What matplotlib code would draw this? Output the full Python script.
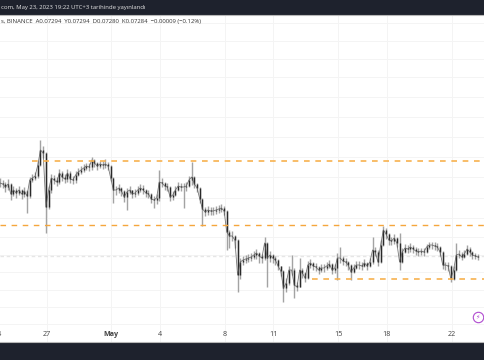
"""
ETH/BTC style 4h chart, screenshot layout with dark header and footer strip.
"""
import pandas as pd
import matplotlib.pyplot as plt

plt.rcParams['font.family'] = ['Open Sans', 'DejaVu Sans']

# ---------------------------
# Data (price x 1e5)
# ---------------------------
closes = [7430, 7428, 7422, 7428, 7408, 7416, 7410, 7416, 7408, 7414, 7404, 7436, 7440, 7444, 7466, 7496, 7490, 7382,
          7416, 7440, 7436, 7432, 7450, 7442, 7438, 7450, 7438, 7436, 7446, 7452, 7456, 7460, 7464, 7462, 7476, 7470,
          7464, 7468, 7466, 7468, 7464, 7440, 7416, 7416, 7420, 7414, 7402, 7412, 7416, 7408, 7410, 7416, 7420, 7416,
          7410, 7408, 7398, 7396, 7400, 7432, 7430, 7424, 7422, 7402, 7406, 7416, 7424, 7422, 7422, 7424, 7436, 7442,
          7428, 7420, 7398, 7378, 7372, 7376, 7374, 7374, 7376, 7378, 7380, 7374, 7332, 7324, 7324, 7316, 7246, 7272,
          7276, 7278, 7280, 7282, 7286, 7290, 7284, 7280, 7310, 7280, 7286, 7280, 7276, 7264, 7254, 7220, 7230, 7256,
          7256, 7226, 7222, 7256, 7250, 7240, 7266, 7270, 7264, 7262, 7256, 7260, 7260, 7264, 7268, 7256, 7260, 7280,
          7280, 7274, 7272, 7266, 7252, 7260, 7266, 7266, 7264, 7270, 7264, 7272, 7296, 7292, 7272, 7306, 7336, 7328,
          7316, 7314, 7320, 7310, 7272, 7292, 7300, 7298, 7302, 7298, 7294, 7292, 7294, 7292, 7302, 7306, 7306, 7304,
          7302, 7292, 7266, 7266, 7264, 7238, 7256, 7286, 7288, 7282, 7288, 7298, 7292, 7286, 7284, 7282]
highs = [7440, 7436, 7432, 7438, 7430, 7424, 7420, 7424, 7418, 7422, 7416, 7442, 7448, 7452, 7474, 7516, 7504, 7492,
         7424, 7448, 7446, 7442, 7458, 7454, 7448, 7458, 7454, 7444, 7454, 7460, 7464, 7468, 7470, 7470, 7482, 7478,
         7472, 7474, 7474, 7478, 7472, 7466, 7442, 7424, 7428, 7422, 7416, 7420, 7424, 7416, 7418, 7424, 7428, 7426,
         7418, 7416, 7410, 7404, 7408, 7456, 7440, 7432, 7430, 7424, 7414, 7424, 7432, 7430, 7430, 7432, 7444, 7472,
         7444, 7430, 7422, 7400, 7382, 7384, 7382, 7382, 7384, 7386, 7388, 7384, 7376, 7336, 7334, 7326, 7318, 7280,
         7284, 7286, 7288, 7290, 7294, 7298, 7292, 7288, 7322, 7312, 7294, 7288, 7284, 7278, 7264, 7256, 7240, 7264,
         7286, 7260, 7232, 7280, 7260, 7252, 7274, 7278, 7272, 7270, 7264, 7268, 7268, 7272, 7276, 7270, 7268, 7290,
         7302, 7284, 7280, 7274, 7268, 7268, 7274, 7274, 7272, 7278, 7272, 7280, 7322, 7302, 7296, 7316, 7344, 7340,
         7330, 7322, 7328, 7322, 7330, 7300, 7308, 7306, 7310, 7306, 7302, 7300, 7300, 7300, 7308, 7312, 7312, 7312,
         7310, 7304, 7294, 7272, 7272, 7266, 7264, 7310, 7296, 7292, 7296, 7306, 7302, 7294, 7290, 7288]
lows = [7422, 7420, 7412, 7416, 7396, 7404, 7400, 7406, 7398, 7402, 7370, 7400, 7432, 7436, 7440, 7464, 7480, 7330,
        7378, 7410, 7428, 7424, 7428, 7434, 7430, 7432, 7430, 7428, 7430, 7444, 7448, 7452, 7456, 7454, 7456, 7462,
        7456, 7460, 7458, 7460, 7456, 7434, 7390, 7406, 7410, 7404, 7392, 7376, 7408, 7400, 7402, 7406, 7412, 7408,
        7402, 7400, 7390, 7380, 7388, 7394, 7422, 7416, 7414, 7394, 7396, 7404, 7414, 7414, 7380, 7414, 7422, 7426,
        7420, 7412, 7390, 7344, 7364, 7366, 7366, 7366, 7368, 7370, 7372, 7366, 7296, 7300, 7314, 7300, 7212, 7238,
        7266, 7270, 7272, 7274, 7278, 7278, 7270, 7270, 7276, 7222, 7272, 7270, 7266, 7256, 7244, 7192, 7212, 7226,
        7246, 7200, 7214, 7222, 7240, 7232, 7238, 7260, 7256, 7254, 7248, 7252, 7252, 7256, 7260, 7248, 7250, 7236,
        7270, 7266, 7264, 7256, 7236, 7250, 7258, 7258, 7256, 7262, 7256, 7262, 7268, 7284, 7264, 7270, 7304, 7318,
        7306, 7306, 7308, 7302, 7256, 7270, 7290, 7290, 7292, 7290, 7286, 7284, 7286, 7284, 7290, 7298, 7298, 7296,
        7294, 7284, 7258, 7256, 7254, 7232, 7236, 7254, 7280, 7276, 7280, 7286, 7284, 7278, 7278, 7276]

grid_levels = [7750, 7714, 7678, 7642, 7602, 7562, 7522, 7482, 7442, 7400, 7360, 7322, 7286, 7252, 7216, 7182, 7148]
day_ticks = ['2023-04-24', '2023-04-27', '2023-05-01', '2023-05-04', '2023-05-08', '2023-05-11', '2023-05-15',
             '2023-05-18', '2023-05-22']
day_labels = ['24', '27', 'May', '4', '8', '11', '15', '18', '22']

title = 'com, May 23, 2023 19:22 UTC+3 tarihinde yayınlandı'
ohlc_text = 's, BINANCE  A0.07294  Y0.07294  D0.07280  K0.07284  −0.00009 (−0.12%)'

# ---------------------------
# Figure
# ---------------------------
times = pd.date_range('2023-04-24 03:00', periods=len(closes), freq='4h')
to_price = lambda vals: [v / 1e5 for v in vals]
opens = [closes[0]] + closes[:-1]

fig = plt.figure(figsize=(4.85, 3.6), dpi=100, facecolor='#1e222d')
ax = fig.add_axes([0, 18 / 360, 1, 327 / 360], facecolor='white')

ax.set_xlim(pd.Timestamp('2023-04-24 03:00'), pd.Timestamp('2023-05-24 01:36'))
ax.set_ylim(0.07112, 0.07766)

ax.set_yticks(to_price(grid_levels))
ticks = pd.to_datetime(day_ticks)
ax.set_xticks(ticks[1:])
ax.grid(True, color='#f4f4f4', linewidth=0.7)
ax.set_axisbelow(True)
ax.tick_params(length=0, labelleft=False, labelbottom=False)
for spine in ax.spines.values():
    spine.set_visible(False)

# wicks first, bodies on top
ax.vlines(times, to_price(lows), to_price(highs), color='#8c8c8c', linewidth=1.0, alpha=0.8)
ax.vlines(times, to_price(opens), to_price(closes), color='#2a2a2a', linewidth=1.0)
ax.plot(times, to_price(closes), color='#555555', linewidth=0.6, alpha=0.8)

# drawn levels
ax.axhline(0.07284, color='#e6e6e6', linestyle=(0, (2.5, 2)), linewidth=1.0, zorder=1)
ax.axhline(0.07346, color='#f5a63c', linestyle=(0, (4, 4)), linewidth=1)
ax.hlines(0.07474, pd.Timestamp('2023-04-26 03:00'), times[-1] + pd.Timedelta(days=2), color='#f7b14f',
          linestyle=(0, (3.4, 3.4)), linewidth=1.2)
ax.hlines(0.07238, pd.Timestamp('2023-05-13 10:00'), times[-1] + pd.Timedelta(days=2), color='#f7b14f',
          linestyle=(0, (3.4, 3.4)), linewidth=1.2)

for tick, label in zip(ticks, day_labels):
    ax.annotate(label, (tick, 0), xycoords=('data', 'axes fraction'), xytext=(0, 5.3), textcoords='offset points',
                ha='center', va='center', fontsize=5.2, color='#444444', annotation_clip=False,
                fontweight='bold' if label == 'May' else 'normal')

ax.text(1 / 485, 1 - 4.5 / 327, ohlc_text, transform=ax.transAxes, fontsize=4.3, color='#333333', va='top')
fig.text(1 / 485, 1 - 8 / 360, title, fontsize=4.3, color='#e6e6e6', va='center')

# border lines of the dark strips
fig.add_artist(plt.Line2D([0, 1], [1 - 14.5 / 360] * 2, color='#b8b8b8', linewidth=0.8))
fig.add_artist(plt.Line2D([0, 1], [18 / 360] * 2, color='#b8b8b8', linewidth=0.8))

# lightning badge
ax.plot([0.9856], [0.0755], 'o', transform=ax.transAxes, markersize=7.5, markerfacecolor='white',
        markeredgecolor='#b04bd0', markeredgewidth=0.8)
ax.text(0.9856, 0.0755, '⚡', transform=ax.transAxes, fontsize=4.5, color='#b04bd0', ha='center', va='center')

fig.savefig('out.png', dpi=100, facecolor=fig.get_facecolor())
